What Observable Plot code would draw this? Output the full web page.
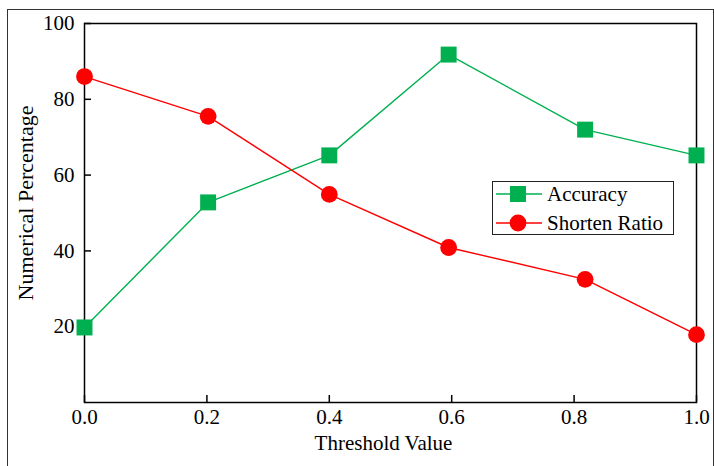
<!DOCTYPE html>
<html>
<head>
<meta charset="utf-8">
<script src="https://cdn.jsdelivr.net/npm/d3@7"></script>
<script src="https://cdn.jsdelivr.net/npm/@observablehq/plot@0.6"></script>
<style>
  body { margin: 0; background: #fff; }
  #wrap { position: relative; width: 714px; height: 466px; overflow: hidden; font-family: "Liberation Serif", "Times New Roman", serif; }
  #border { position: absolute; left: 7px; top: 9px; width: 707px; height: 470px; box-sizing: border-box; border: 1px solid #333; }
  #chart { position: absolute; left: 0; top: 0; }
  #legend { position: absolute; left: 492px; top: 181px; width: 182px; height: 54px; box-sizing: border-box; border: 1.5px solid #222; background: #fff; }
  .row { position: absolute; left: 0; height: 24px; display: flex; align-items: center; }
  .row span { font-size: 21px; line-height: 24px; margin-left: 5px; color: #000; }
</style>
</head>
<body>
<div id="wrap">
  <div id="border"></div>
  <div id="chart"></div>
  <div id="legend"></div>
</div>
<script>
// ---- data ----
const thresholds = [0, 0.202, 0.4, 0.595, 0.818, 1.0];
const accuracy = [19.8, 52.8, 65.2, 91.8, 72.0, 65.2];
const shortenRatio = [86.0, 75.5, 54.9, 40.9, 32.5, 17.9];
const seriesNames = ["Accuracy", "Shorten Ratio"];
const seriesColors = ["#00B050", "#FF0000"];
const seriesSymbols = ["square", "circle"];
const xTicks = [0, 0.2, 0.4, 0.6, 0.8, 1.0];
const yTicks = [20, 40, 60, 80, 100];
const xTitle = "Threshold Value";
const yTitle = "Numerical Percentage";

const accRows = thresholds.map((t, i) => ({ x: t, y: accuracy[i], s: seriesNames[0] }));
const srRows = thresholds.map((t, i) => ({ x: t, y: shortenRatio[i], s: seriesNames[1] }));

const font = '"Liberation Serif", "Times New Roman", serif';

const plot = Plot.plot({
  width: 714,
  height: 466,
  marginLeft: 84,
  marginRight: 18,
  marginTop: 23,
  marginBottom: 64,
  style: { fontFamily: font, fontSize: "21px", color: "#000", background: "transparent", overflow: "visible" },
  x: { domain: [0, 1], label: null },
  y: { domain: [0, 100], label: null },
  marks: [
    Plot.frame({ stroke: "#000", strokeWidth: 1.5 }),
    // inward tick marks
    Plot.tickX(xTicks, { x: d => d, stroke: "#000", strokeWidth: 1.5, insetTop: 372 }),
    Plot.tickY(yTicks, { y: d => d, stroke: "#000", strokeWidth: 1.5, insetRight: 605 }),
    // tick labels
    Plot.axisX(xTicks, { tickSize: 0, tickPadding: 7, tickFormat: d => d.toFixed(1), label: null, fontSize: 21 }),
    Plot.axisY(yTicks, { tickSize: 0, tickPadding: 10, tickFormat: d => String(d), label: null, fontSize: 21 }),
    // titles
    Plot.text([xTitle], { frameAnchor: "bottom", textAnchor: "middle", lineAnchor: "middle", dy: 41, dx: -7, fontSize: 21, text: d => d }),
    Plot.text([yTitle], { frameAnchor: "left", textAnchor: "middle", lineAnchor: "middle", rotate: -90, dx: -59, dy: -10, fontSize: 22, text: d => d }),
    // series
    Plot.line(accRows, { x: "x", y: "y", stroke: seriesColors[0], strokeWidth: 1.4 }),
    Plot.line(srRows, { x: "x", y: "y", stroke: seriesColors[1], strokeWidth: 1.4 }),
    Plot.dot(accRows, { x: "x", y: "y", symbol: seriesSymbols[0], r: 9, fill: seriesColors[0], stroke: "none" }),
    Plot.dot(srRows, { x: "x", y: "y", symbol: seriesSymbols[1], r: 8.4, fill: seriesColors[1], stroke: "none" })
  ]
});
document.getElementById("chart").appendChild(plot);

// ---- legend ----
const legend = d3.select("#legend");
seriesNames.forEach((name, i) => {
  const row = legend.append("div").attr("class", "row").style("top", (i * 29) + "px");
  const svg = row.append("svg").attr("width", 46).attr("height", 24).style("margin-left", "3px");
  svg.append("line").attr("x1", 0).attr("x2", 46).attr("y1", 12).attr("y2", 12)
    .attr("stroke", seriesColors[i]).attr("stroke-width", 1.5);
  const sym = d3.symbol().type(seriesSymbols[i] === "square" ? d3.symbolSquare : d3.symbolCircle)
    .size(seriesSymbols[i] === "square" ? 256 : Math.PI * 8.4 * 8.4);
  svg.append("path").attr("d", sym()).attr("transform", "translate(22,12)").attr("fill", seriesColors[i]);
  row.append("span").text(name);
});
</script>
</body>
</html>
